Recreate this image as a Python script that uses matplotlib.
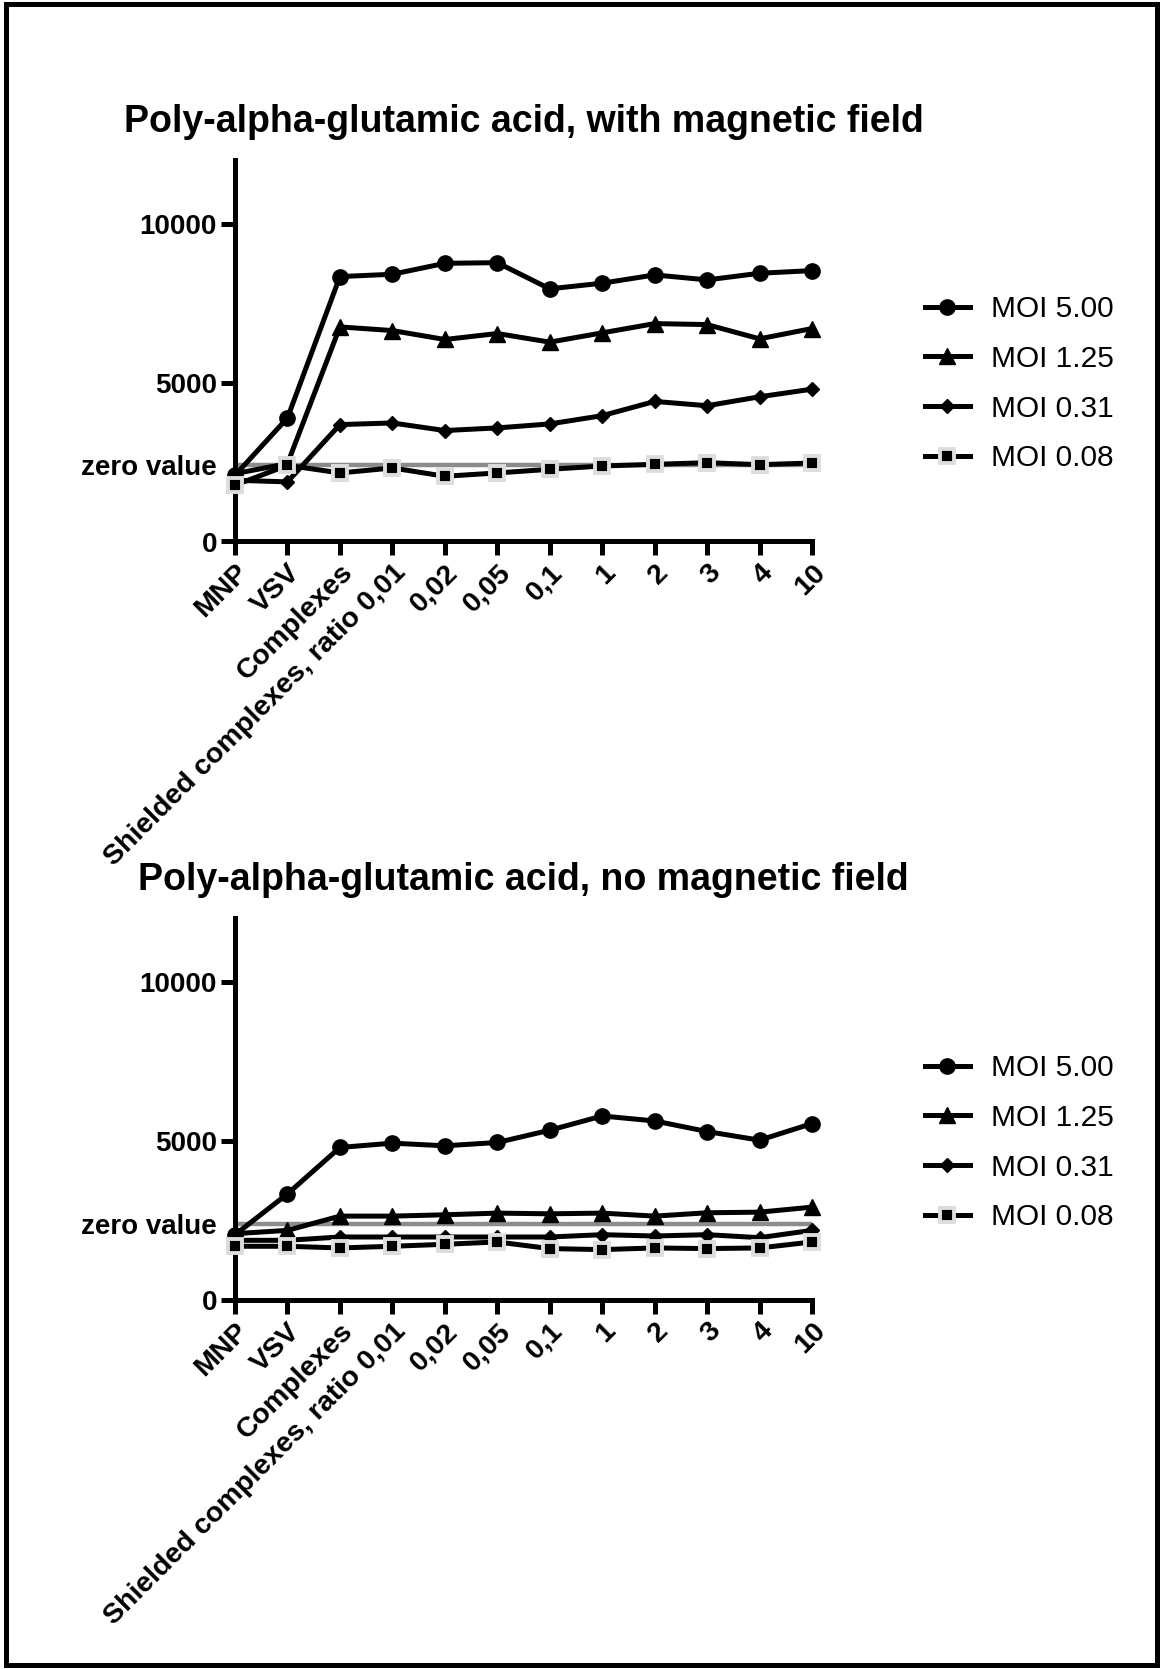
import matplotlib
matplotlib.use("Agg")
import matplotlib.pyplot as plt
from matplotlib.patches import Rectangle

plt.rcParams['font.family'] = ['Liberation Sans', 'DejaVu Sans']

# x categories
categories = ["MNP", "VSV", "Complexes", "Shielded complexes, ratio 0,01",
              "0,02", "0,05", "0,1", "1", "2", "3", "4", "10"]
series_labels = ["MOI 5.00", "MOI 1.25", "MOI 0.31", "MOI 0.08"]

# with magnetic field
moi500_field = [2083, 3885, 8333, 8406, 8750, 8771, 7948, 8125, 8385, 8229, 8437, 8521]
moi125_field = [2135, 2448, 6750, 6635, 6354, 6542, 6271, 6563, 6854, 6823, 6375, 6698]
moi031_field = [1927, 1875, 3677, 3729, 3490, 3573, 3698, 3958, 4406, 4271, 4552, 4792]
moi008_field = [1771, 2396, 2156, 2313, 2052, 2156, 2271, 2375, 2427, 2479, 2417, 2469]

# no magnetic field
moi500_nofield = [2052, 3333, 4792, 4927, 4844, 4948, 5333, 5781, 5625, 5292, 5021, 5542]
moi125_nofield = [2083, 2188, 2635, 2635, 2677, 2729, 2708, 2729, 2635, 2740, 2760, 2917]
moi031_nofield = [1875, 1875, 1979, 1979, 1979, 1979, 1979, 2052, 2010, 2052, 1958, 2188]
moi008_nofield = [1688, 1688, 1635, 1688, 1750, 1823, 1615, 1583, 1635, 1615, 1635, 1823]

zero_value = 2400
y_ticks = [0, zero_value, 5000, 10000]
y_tick_labels = ["0", "zero value", "5000", "10000"]

titles = ["Poly-alpha-glutamic acid, with magnetic field",
          "Poly-alpha-glutamic acid, no magnetic field"]

W, H = 1160, 1669
fig = plt.figure(figsize=(W / 100, H / 100), dpi=100)

LW = 3.6
styles = [
    dict(marker='o', markersize=11, color='black', mec='black'),
    dict(marker='^', markersize=11, color='black', mec='black'),
    dict(marker='D', markersize=7.5, color='black', mec='black'),
    dict(marker='s', markersize=10, color='black', mec='#dddddd', mew=2.8),
]


def draw_panel(rect, data, title, legend_top_px):
    ax = fig.add_axes(rect)
    x = list(range(len(categories)))
    ax.plot([x[0], x[-1]], [zero_value, zero_value], color='#8c8c8c',
            lw=3.2, zorder=1, solid_capstyle='butt')
    handles = []
    for vals, st, lab in zip(data, styles, series_labels):
        h, = ax.plot(x, vals, lw=LW, label=lab, clip_on=False, zorder=3, **st)
        handles.append(h)
    ax.set_xlim(0, len(categories) - 1)
    ax.set_ylim(0, 12000)
    for s in ('top', 'right'):
        ax.spines[s].set_visible(False)
    for s in ('left', 'bottom'):
        ax.spines[s].set_linewidth(LW)
        ax.spines[s].set_capstyle('projecting')
    ax.set_yticks(y_ticks)
    ax.set_yticklabels(y_tick_labels, fontsize=20, fontweight='bold')
    ax.yaxis.get_major_ticks()[1].tick1line.set_visible(False)
    ax.set_xticks(x)
    ax.set_xticklabels(categories, fontsize=20.5, fontweight='bold',
                       rotation=45, ha='right', rotation_mode='anchor')
    ax.tick_params(axis='both', length=10, width=LW, pad=3)
    ax.set_title(title, fontsize=27, fontweight='bold', pad=20)
    fig.legend(handles=handles, loc='upper left',
               bbox_to_anchor=(925 / W, 1 - legend_top_px / H),
               frameon=False, fontsize=21.5, handlelength=1.5,
               handletextpad=0.72, labelspacing=0.73, borderpad=0,
               borderaxespad=0)
    return ax


top_data = [moi500_field, moi125_field, moi031_field, moi008_field]
bot_data = [moi500_nofield, moi125_nofield, moi031_nofield, moi008_nofield]

left, right = 235 / W, 812 / W
draw_panel([left, 1 - 541.5 / H, right - left, 381.5 / H], top_data, titles[0], 295)
draw_panel([left, 1 - 1300 / H, right - left, 382 / H], bot_data, titles[1], 1054)

fig.patches.append(Rectangle((6 / W, 4 / H), (1157 - 6) / W, (1665 - 4) / H,
                             transform=fig.transFigure, fill=False,
                             ec='black', lw=3.6))

fig.savefig("out.png", dpi=100)
